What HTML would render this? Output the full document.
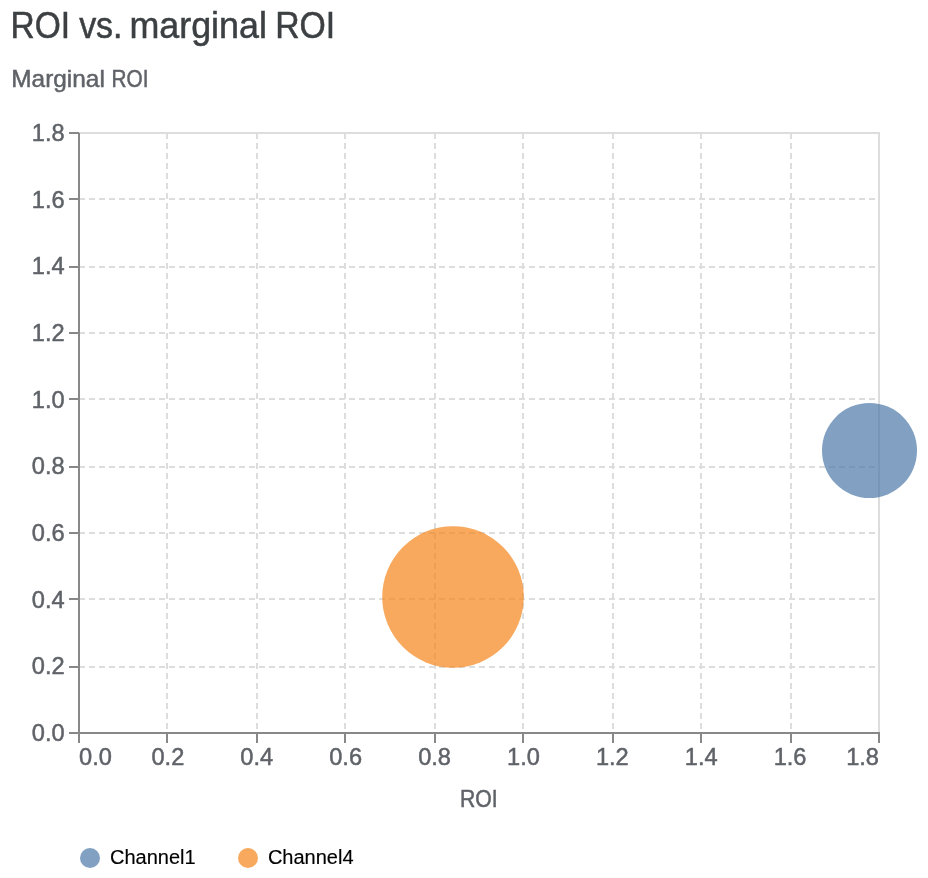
<!DOCTYPE html>
<html lang="en"><head><meta charset="utf-8"><title>ROI vs. marginal ROI</title>
<style>html,body{margin:0;padding:0;background:#fff}svg{display:block}text{font-family:"Liberation Sans",Arial,Helvetica,sans-serif}.t{fill:#5f6368;stroke:#5f6368;stroke-width:.5px;font-size:24px}.lg{fill:#000;stroke:#000;stroke-width:.15px;font-size:20px}</style></head><body>
<svg width="928" height="878" viewBox="0 0 928 878">
<rect width="928" height="878" fill="#fff"/>
<g><text x="10.56" y="37.5" font-size="36" fill="#3c4043" stroke="#3c4043" stroke-width="0.5" textLength="59.60" lengthAdjust="spacingAndGlyphs">ROI</text> <text x="79.13" y="37.5" font-size="36" fill="#3c4043" stroke="#3c4043" stroke-width="0.5" textLength="43.45" lengthAdjust="spacingAndGlyphs">vs.</text> <text x="129.38" y="37.5" font-size="36" fill="#3c4043" stroke="#3c4043" stroke-width="0.5" textLength="137.54" lengthAdjust="spacingAndGlyphs">marginal</text> <text x="275.19" y="37.5" font-size="36" fill="#3c4043" stroke="#3c4043" stroke-width="0.5" textLength="59.99" lengthAdjust="spacingAndGlyphs">ROI</text></g>
<g><text x="11.32" y="86.9" font-size="24" fill="#5f6368" stroke="#5f6368" stroke-width="0.5" textLength="93.50" lengthAdjust="spacingAndGlyphs">Marginal</text> <text x="111.62" y="86.9" font-size="24" fill="#5f6368" stroke="#5f6368" stroke-width="0.5" textLength="36.91" lengthAdjust="spacingAndGlyphs">ROI</text></g>
<rect x="79" y="133" width="800" height="600" fill="none" stroke="#ddd" stroke-width="2"/>
<g stroke="#ddd" stroke-width="2" stroke-dasharray="6 4" fill="none">
<path d="M79 133V733"/>
<path d="M167 133V733"/>
<path d="M257 133V733"/>
<path d="M345 133V733"/>
<path d="M435 133V733"/>
<path d="M523 133V733"/>
<path d="M613 133V733"/>
<path d="M701 133V733"/>
<path d="M791 133V733"/>
<path d="M879 133V733"/>
<path d="M79 733H879"/>
<path d="M79 667H879"/>
<path d="M79 599H879"/>
<path d="M79 533H879"/>
<path d="M79 467H879"/>
<path d="M79 399H879"/>
<path d="M79 333H879"/>
<path d="M79 267H879"/>
<path d="M79 199H879"/>
<path d="M79 133H879"/>
</g>
<g stroke="#888" stroke-width="2" fill="none">
<path d="M79 733v10"/>
<path d="M167 733v10"/>
<path d="M257 733v10"/>
<path d="M345 733v10"/>
<path d="M435 733v10"/>
<path d="M523 733v10"/>
<path d="M613 733v10"/>
<path d="M701 733v10"/>
<path d="M791 733v10"/>
<path d="M879 733v10"/>
<path d="M79 733h-10"/>
<path d="M79 667h-10"/>
<path d="M79 599h-10"/>
<path d="M79 533h-10"/>
<path d="M79 467h-10"/>
<path d="M79 399h-10"/>
<path d="M79 333h-10"/>
<path d="M79 267h-10"/>
<path d="M79 199h-10"/>
<path d="M79 133h-10"/>
<path d="M79 133V734"/>
<path d="M78 733H880"/>
</g>
<g class="t">
<text x="79" y="764.65" text-anchor="start" textLength="32.85" lengthAdjust="spacingAndGlyphs">0.0</text>
<text x="167.89" y="764.65" text-anchor="middle" textLength="32.85" lengthAdjust="spacingAndGlyphs">0.2</text>
<text x="256.78" y="764.65" text-anchor="middle" textLength="32.85" lengthAdjust="spacingAndGlyphs">0.4</text>
<text x="345.67" y="764.65" text-anchor="middle" textLength="32.85" lengthAdjust="spacingAndGlyphs">0.6</text>
<text x="434.56" y="764.65" text-anchor="middle" textLength="32.85" lengthAdjust="spacingAndGlyphs">0.8</text>
<text x="523.44" y="764.65" text-anchor="middle" textLength="32.85" lengthAdjust="spacingAndGlyphs">1.0</text>
<text x="612.33" y="764.65" text-anchor="middle" textLength="32.85" lengthAdjust="spacingAndGlyphs">1.2</text>
<text x="701.22" y="764.65" text-anchor="middle" textLength="32.85" lengthAdjust="spacingAndGlyphs">1.4</text>
<text x="790.11" y="764.65" text-anchor="middle" textLength="32.85" lengthAdjust="spacingAndGlyphs">1.6</text>
<text x="879" y="764.65" text-anchor="end" textLength="32.85" lengthAdjust="spacingAndGlyphs">1.8</text>
<text x="64.6" y="741" text-anchor="end" textLength="32.85" lengthAdjust="spacingAndGlyphs">0.0</text>
<text x="64.6" y="674" text-anchor="end" textLength="32.85" lengthAdjust="spacingAndGlyphs">0.2</text>
<text x="64.6" y="608" text-anchor="end" textLength="32.85" lengthAdjust="spacingAndGlyphs">0.4</text>
<text x="64.6" y="541" text-anchor="end" textLength="32.85" lengthAdjust="spacingAndGlyphs">0.6</text>
<text x="64.6" y="474" text-anchor="end" textLength="32.85" lengthAdjust="spacingAndGlyphs">0.8</text>
<text x="64.6" y="408" text-anchor="end" textLength="32.85" lengthAdjust="spacingAndGlyphs">1.0</text>
<text x="64.6" y="341" text-anchor="end" textLength="32.85" lengthAdjust="spacingAndGlyphs">1.2</text>
<text x="64.6" y="274" text-anchor="end" textLength="32.85" lengthAdjust="spacingAndGlyphs">1.4</text>
<text x="64.6" y="208" text-anchor="end" textLength="32.85" lengthAdjust="spacingAndGlyphs">1.6</text>
<text x="64.6" y="141" text-anchor="end" textLength="32.85" lengthAdjust="spacingAndGlyphs">1.8</text>
</g>
<text x="459.98" y="806.9" font-size="24" fill="#5f6368" stroke="#5f6368" stroke-width="0.5" textLength="37.68" lengthAdjust="spacingAndGlyphs">ROI</text>
<circle cx="869.5" cy="450.5" r="47.5" fill="#4c78a8" fill-opacity="0.7"/>
<circle cx="453" cy="597" r="70.8" fill="#f58518" fill-opacity="0.7"/>
<circle cx="90" cy="858" r="10" fill="#4c78a8" fill-opacity="0.7"/>
<text class="lg" x="110" y="864">Channel1</text>
<circle cx="248" cy="858" r="10" fill="#f58518" fill-opacity="0.7"/>
<text class="lg" x="267.9" y="864">Channel4</text>
</svg></body></html>
